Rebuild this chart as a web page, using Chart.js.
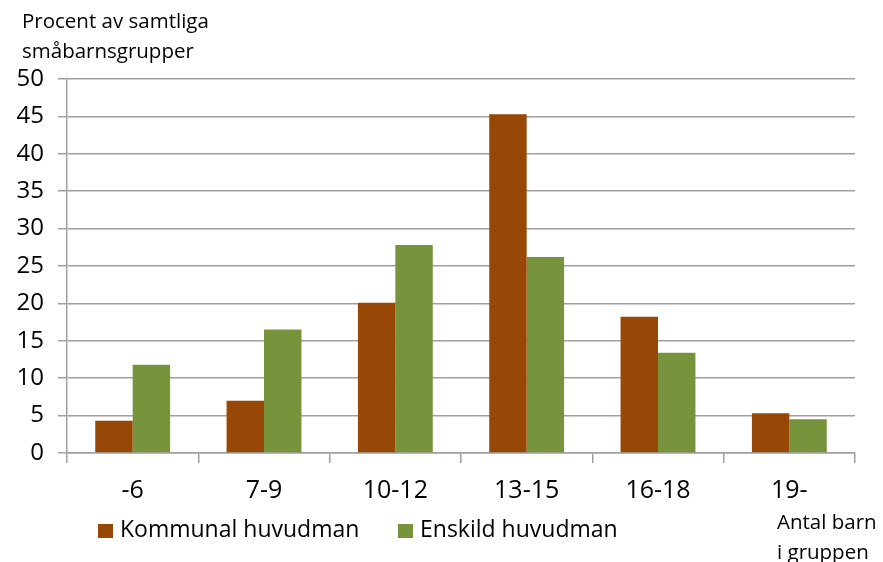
<!DOCTYPE html>
<html>
<head>
<meta charset="utf-8">
<script src="https://cdn.jsdelivr.net/npm/chart.js@4"></script>
<style>
  html, body { margin: 0; padding: 0; background: #fff; }
  #wrap { width: 883px; height: 562px; }
</style>
</head>
<body>
<div id="wrap"><canvas id="groupChart" width="883" height="562"></canvas></div>
<script>
var categories = ['-6', '7-9', '10-12', '13-15', '16-18', '19-'];
var kommunal = [4.3, 7.0, 20.1, 45.3, 18.2, 5.3];
var enskild = [11.8, 16.5, 27.8, 26.2, 13.4, 4.5];
var seriesNames = ['Kommunal huvudman', 'Enskild huvudman'];
var yTitle = ['Procent av samtliga', 'småbarnsgrupper'];
var xTitle = ['Antal barn', 'i gruppen'];

var FONT = '"Open Sans", "Noto Sans", sans-serif';

var extraText = {
  id: 'extraText',
  afterDraw: function(chart) {
    var ctx = chart.ctx;
    ctx.save();
    ctx.fillStyle = '#000';
    ctx.textBaseline = 'middle';
    ctx.textAlign = 'left';
    ctx.font = '20.5px ' + FONT;
    ctx.fillText(yTitle[0], 22, 22);
    ctx.fillText(yTitle[1], 22, 52);
    ctx.font = '20.5px ' + FONT;
    ctx.fillText(xTitle[0], 777, 523);
    ctx.fillText(xTitle[1], 777, 553);
    // legend
    var lx = [98, 398];
    chart.data.datasets.forEach(function(ds, i) {
      ctx.fillStyle = ds.backgroundColor;
      ctx.fillRect(lx[i], 524, 15, 14);
      ctx.fillStyle = '#000';
      ctx.font = '23px ' + FONT;
      ctx.fillText(ds.label, lx[i] + 22, 530);
    });
    ctx.restore();
  }
};

new Chart(document.getElementById('groupChart').getContext('2d'), {
  type: 'bar',
  data: {
    labels: categories,
    datasets: [
      { label: seriesNames[0], data: kommunal, backgroundColor: '#974706' },
      { label: seriesNames[1], data: enskild, backgroundColor: '#77933C' }
    ]
  },
  options: {
    responsive: false,
    animation: false,
    layout: { padding: { left: 0, top: 79, right: 28, bottom: 0 } },
    plugins: {
      legend: { display: false },
      tooltip: { enabled: false }
    },
    datasets: { bar: { categoryPercentage: 0.57, barPercentage: 1.0 } },
    scales: {
      x: {
        afterFit: function(s) { s.height = 109; },
        grid: { offset: true, drawOnChartArea: false, color: '#a0a0a0', tickLength: 10, lineWidth: 1.5 },
        border: { color: '#a0a0a0', width: 1.5 },
        ticks: { color: '#000', padding: 13, font: { family: FONT, size: 25 } }
      },
      y: {
        min: 0,
        max: 50,
        afterFit: function(s) { s.width = 67; },
        ticks: { stepSize: 5, color: '#000', padding: 14, font: { family: FONT, size: 24 } },
        grid: { color: '#a0a0a0', tickLength: 9, lineWidth: 1.5 },
        border: { color: '#a0a0a0', width: 1.5 }
      }
    }
  },
  plugins: [extraText]
});
</script>
</body>
</html>
